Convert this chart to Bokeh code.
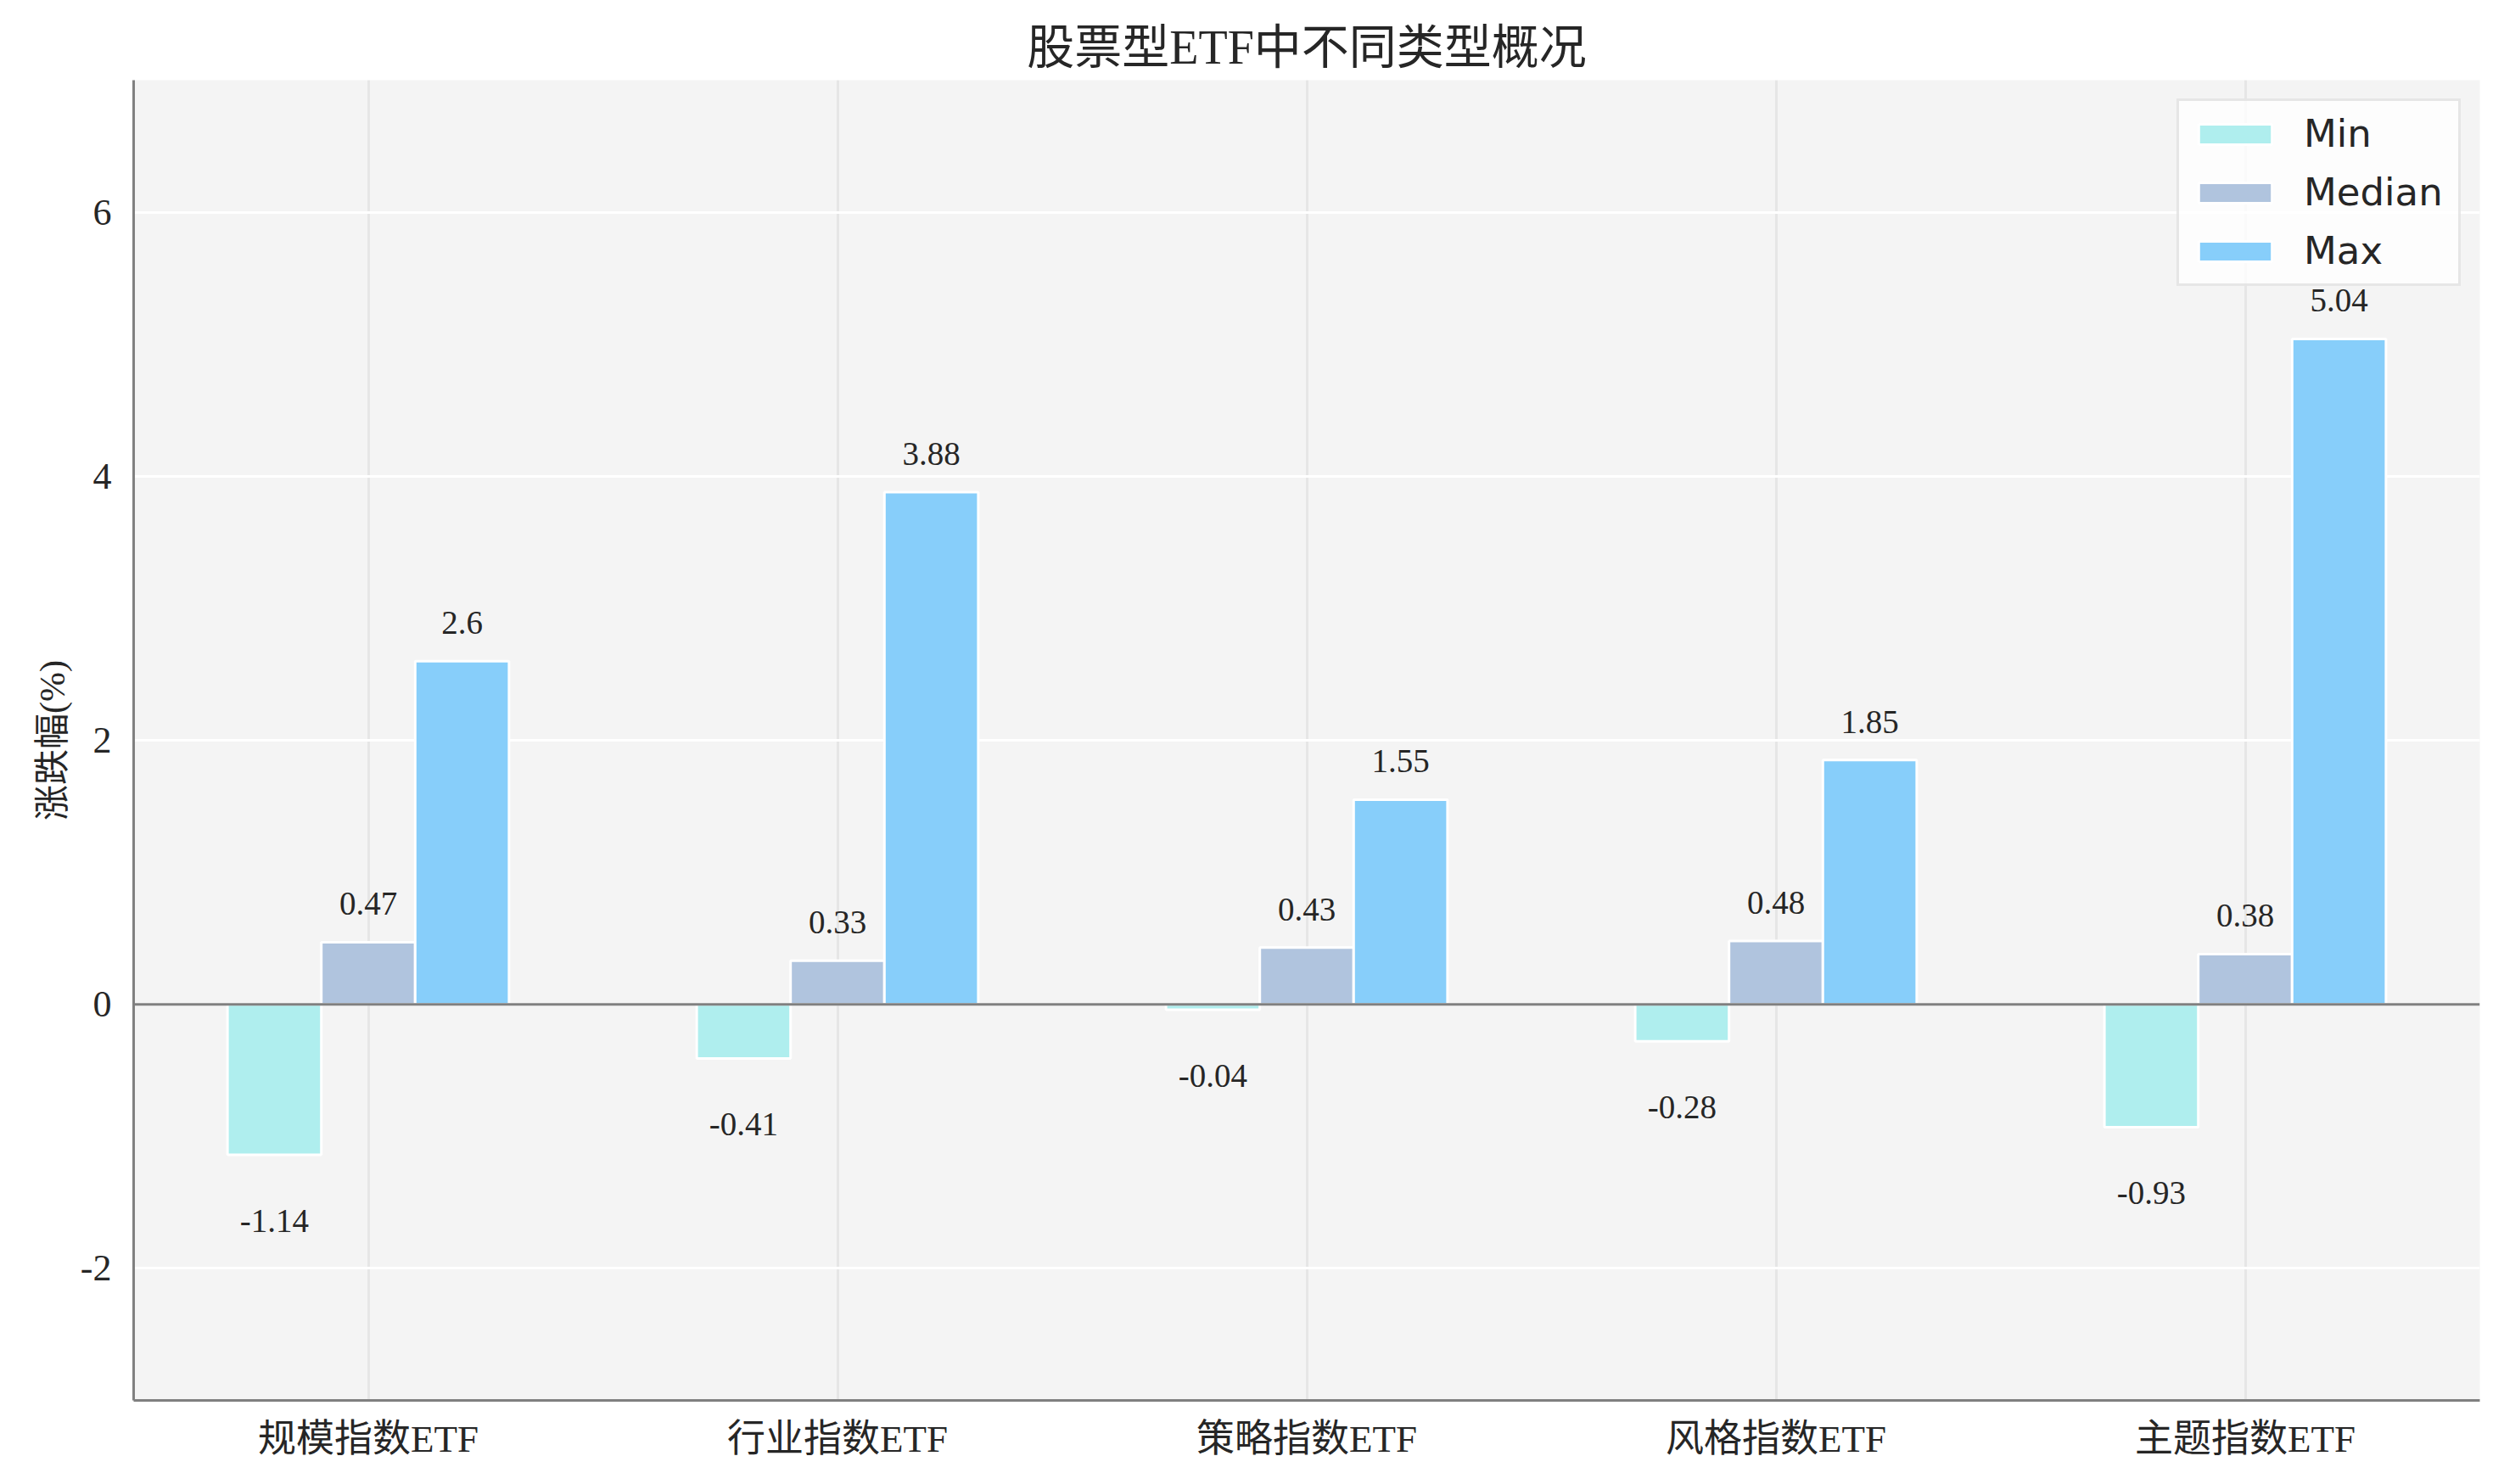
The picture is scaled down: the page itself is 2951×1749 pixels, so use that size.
from bokeh.plotting import figure
from bokeh.models import (ColumnDataSource, Range1d, FixedTicker, Span, Legend, LegendItem,
                          CustomJSTickFormatter)
from bokeh.core.properties import value
from bokeh.embed import file_html
from bokeh.resources import INLINE
import numpy as np

# ── Data ─────────────────────────────────────────────────────────
categories = ['规模指数ETF', '行业指数ETF', '策略指数ETF', '风格指数ETF', '主题指数ETF']
min_vals = [-1.14, -0.41, -0.04, -0.28, -0.93]
median_vals = [0.47, 0.33, 0.43, 0.48, 0.38]
max_vals = [2.6, 3.88, 1.55, 1.85, 5.04]
series_names = ['Min', 'Median', 'Max']
y_ticks = [-2, 0, 2, 4, 6]

COLORS = ['#AFEEEE', '#B0C4DE', '#87CEFA']
SERIF = "'Liberation Serif', 'Noto Sans CJK SC'"
TEXT = '#262626'

W, H = 2935, 1728
p = figure(
    width=W, height=H,
    x_range=Range1d(-0.5, 4.5), y_range=Range1d(-3, 7),
    output_backend="svg", toolbar_location=None,
    min_border_left=157, min_border_right=13,
    min_border_top=94, min_border_bottom=78,
    title='股票型ETF中不同类型概况',
)

# ── Theme ────────────────────────────────────────────────────────
p.background_fill_color = '#f4f4f4'
p.border_fill_color = 'white'
p.outline_line_color = None
p.title.align = 'center'
p.title.text_font = SERIF
p.title.text_font_size = '56px'
p.title.text_font_style = 'normal'
p.title.text_color = TEXT
p.title.standoff = 16

p.xgrid.grid_line_color = '#e6e6e6'
p.xgrid.grid_line_width = 3
p.ygrid.grid_line_color = 'white'
p.ygrid.grid_line_width = 3

for ax in (p.xaxis, p.yaxis):
    ax.axis_line_color = '#808080'
    ax.axis_line_width = 3
    ax.major_tick_line_color = None
    ax.minor_tick_line_color = None
    ax.major_label_text_font = SERIF
    ax.major_label_text_color = TEXT

p.yaxis.ticker = FixedTicker(ticks=y_ticks)
p.yaxis.formatter = CustomJSTickFormatter(code="return tick.toString();")
p.yaxis.major_label_text_font_size = '44px'
p.yaxis.major_label_standoff = 20
p.yaxis.axis_label = '涨跌幅(%)'
p.yaxis.axis_label_text_font = SERIF
p.yaxis.axis_label_text_font_size = '42px'
p.yaxis.axis_label_text_font_style = 'normal'
p.yaxis.axis_label_text_color = TEXT
p.yaxis.axis_label_standoff = 7

x = np.arange(len(categories))
p.xaxis.ticker = FixedTicker(ticks=list(x))
p.xaxis.major_label_overrides = {int(i): c for i, c in zip(x, categories)}
p.xaxis.major_label_text_font_size = '45px'
p.xaxis.major_label_standoff = 14

# ── Bars ─────────────────────────────────────────────────────────
bar_w = 0.2
offsets = [-bar_w, 0.0, bar_w]
items = []
for name, vals, off, col in zip(series_names, [min_vals, median_vals, max_vals], offsets, COLORS):
    src = ColumnDataSource(data=dict(x=x + off, top=vals))
    r = p.vbar(x='x', top='top', bottom=0, width=bar_w, source=src,
               fill_color=col, line_color='white', line_width=3)
    items.append(LegendItem(label=name, renderers=[r]))

    lab_y = [v + 0.29 if v >= 0 else v - 0.5 for v in vals]
    lab_src = ColumnDataSource(data=dict(x=x + off, y=lab_y, t=[str(v) for v in vals]))
    p.text('x', 'y', text='t', source=lab_src, text_align='center', text_baseline='middle',
           text_font=value(SERIF), text_font_size='39px', text_color=TEXT)

p.add_layout(Span(location=0, dimension='width', line_color='#808080', line_width=3))

legend = Legend(items=items, location='top_right', margin=22)
legend.label_text_font = 'DejaVu Sans'
legend.label_text_font_size = '45px'
legend.label_text_color = TEXT
legend.glyph_width = 108
legend.glyph_height = 30
legend.label_height = 52
legend.label_width = 170
legend.label_standoff = 27
legend.spacing = 16
legend.padding = 12
legend.border_line_color = '#cfcfcf'
legend.border_line_width = 3
legend.background_fill_color = 'white'
legend.background_fill_alpha = 0.8
p.add_layout(legend)

open("out.html", "w").write(file_html(p, INLINE))
